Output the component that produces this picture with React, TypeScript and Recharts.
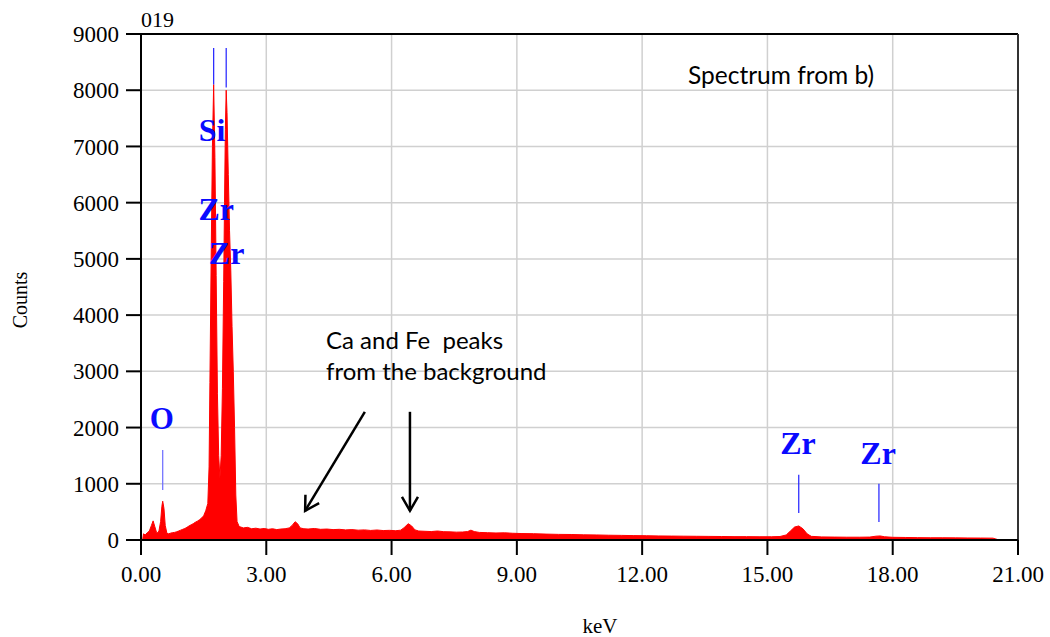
import React from 'react'
import {
  AreaChart, Area, XAxis, YAxis, CartesianGrid, ReferenceLine, ReferenceDot
} from 'recharts'

// energy (keV) and counts
const energy = [
  0.04, 0.06, 0.10, 0.15, 0.20, 0.25, 0.29, 0.33, 0.37, 0.40, 0.43, 0.47, 0.50, 0.52, 0.55, 0.58, 0.62, 0.66,
  0.70, 0.75, 0.80, 0.85, 0.90, 0.95, 1.00, 1.05, 1.10, 1.15, 1.20, 1.25, 1.30, 1.35, 1.40, 1.45, 1.50, 1.55,
  1.60, 1.63, 1.65, 1.68, 1.71, 1.74, 1.77, 1.80, 1.83, 1.86, 1.89, 1.92, 1.95, 1.98, 2.00, 2.02, 2.04, 2.06,
  2.09, 2.12, 2.15, 2.18, 2.21, 2.24, 2.27, 2.30, 2.35, 2.45, 2.55, 2.65, 2.75, 2.85, 2.95, 3.05, 3.15, 3.25,
  3.35, 3.45, 3.55, 3.62, 3.69, 3.75, 3.81, 3.90, 4.00, 4.15, 4.30, 4.45, 4.60, 4.75, 4.90, 5.05, 5.20, 5.35,
  5.50, 5.65, 5.80, 5.95, 6.10, 6.22, 6.30, 6.40, 6.48, 6.56, 6.65, 6.80, 6.95, 7.10, 7.25, 7.40, 7.55, 7.70,
  7.82, 7.90, 7.98, 8.10, 8.30, 8.50, 8.70, 8.90, 9.10, 9.40, 9.70, 10.0, 10.3, 10.6, 10.9, 11.2, 11.5, 11.8,
  12.1, 12.4, 12.7, 13.0, 13.3, 13.6, 13.9, 14.2, 14.5, 14.8, 15.1, 15.3, 15.45, 15.55, 15.65, 15.75, 15.85,
  15.95, 16.05, 16.3, 16.6, 16.9, 17.2, 17.45, 17.6, 17.7, 17.8, 18.0, 18.3, 18.6, 18.9, 19.2, 19.5, 19.8,
  20.1, 20.4, 20.55,
]
const counts = [
  0, 110, 90, 130, 160, 260, 340, 240, 140, 130, 160, 330, 600, 690, 560, 260, 120, 110,
  120, 130, 135, 145, 160, 175, 190, 205, 225, 250, 270, 290, 315, 335, 360, 390, 430, 520,
  650, 1300, 2800, 5000, 7000, 8100, 6800, 4700, 2600, 1500, 1100, 1500, 2700, 4600, 6000, 7300, 8000, 7600,
  6500, 5500, 4800, 3800, 3000, 2000, 800, 330, 240, 215, 225, 200, 210, 195, 205, 190, 200, 185,
  195, 200, 215, 260, 325, 290, 215, 200, 195, 205, 190, 195, 185, 190, 180, 185, 175, 180,
  170, 178, 168, 172, 165, 175, 220, 290, 250, 180, 160, 155, 150, 160, 148, 145, 140, 142,
  150, 175, 150, 135, 130, 125, 128, 120, 115, 112, 105, 100, 98, 92, 90, 85, 82, 78,
  76, 72, 70, 68, 66, 64, 62, 60, 60, 58, 58, 62, 90, 160, 230, 250, 200,
  110, 65, 55, 52, 50, 50, 52, 68, 72, 58, 48, 45, 42, 40, 40, 38, 36,
  35, 33, 0,
]
const xTicks = [0, 3, 6, 9, 12, 15, 18, 21]
const yTicks = [0, 1000, 2000, 3000, 4000, 5000, 6000, 7000, 8000, 9000]

// element markers: label and tick line (kev, from, to), label anchor
const markers = [
  { name: 'O', kev: 0.52, from: 890, to: 1600, lx: 0.50, ly: 2170 },
  { name: 'Si', kev: 1.74, from: 8100, to: 8750, lx: 1.70, ly: 7300 },
  { name: 'Zr', kev: 2.04, from: 8050, to: 8750, lx: 1.80, ly: 5900 },
  { name: 'Zr', kev: 2.04, from: 8050, to: 8050, lx: 2.05, ly: 5120 },
  { name: 'Zr', kev: 15.75, from: 480, to: 1160, lx: 15.73, ly: 1730 },
  { name: 'Zr', kev: 17.67, from: 320, to: 1000, lx: 17.65, ly: 1550 },
]

const arrows = [
  { x1: 5.36, y1: 2280, x2: 3.93, y2: 520 },
  { x1: 6.44, y1: 2280, x2: 6.44, y2: 520 },
]

const spectrum = energy.map((e, i) => ({ kev: e, counts: counts[i] }))

const serif = '"Liberation Serif", "Times New Roman", serif'
const sans = 'Lato, "Open Sans", sans-serif'

const ArrowShape = (p: any) => {
  const { x1, y1, x2, y2 } = p
  const a = Math.atan2(y2 - y1, x2 - x1)
  const len = 16
  const spread = Math.PI / 6
  const ax = x2 - len * Math.cos(a - spread)
  const ay = y2 - len * Math.sin(a - spread)
  const bx = x2 - len * Math.cos(a + spread)
  const by = y2 - len * Math.sin(a + spread)
  return (
    <g>
      <line x1={x1} y1={y1} x2={x2} y2={y2} stroke="#000" strokeWidth={2.5} />
      <polyline points={`${ax},${ay} ${x2},${y2} ${bx},${by}`} fill="none" stroke="#000" strokeWidth={2.5} />
    </g>
  )
}

export default function App() {
  return (
    <div style={{ position: 'absolute', left: 0, top: 0, width: 1050, height: 637, background: '#fff' }}>
      <AreaChart width={1050} height={637} data={spectrum} margin={{ top: 34, right: 32, bottom: 0, left: 0 }}>
        <CartesianGrid stroke="#d0d0d0" strokeWidth={1.5} />
        <XAxis
          dataKey="kev" type="number" domain={[0, 21]} ticks={xTicks} height={97}
          tickFormatter={(v) => Number(v).toFixed(2)}
          tick={{ fill: '#000', fontSize: 23, fontFamily: serif }}
          stroke="#000" strokeWidth={2} tickSize={15} tickMargin={11}
        />
        <YAxis
          type="number" domain={[0, 9000]} ticks={yTicks} width={141}
          tick={{ fill: '#000', fontSize: 23, fontFamily: serif }}
          stroke="#000" strokeWidth={2} tickSize={15} tickMargin={7}
        />
        <ReferenceLine y={9000} stroke="#000" strokeWidth={2} />
        <ReferenceLine x={21} stroke="#333" strokeWidth={2} />
        <Area
          type="linear" dataKey="counts" stroke="#ff0000" strokeWidth={1}
          fill="#ff0000" fillOpacity={1} dot={false} activeDot={false} isAnimationActive={false}
        />
        {markers.filter((m) => m.to > m.from).map((m, i) => (
          <ReferenceLine
            key={`m-${i}`}
            segment={[{ x: m.kev, y: m.from }, { x: m.kev, y: m.to }]}
            stroke={m.name === 'O' ? '#6a6aff' : '#1f1fff'} strokeWidth={1.2}
          />
        ))}
        {markers.map((m, i) => (
          <ReferenceDot
            key={`l-${i}`} x={m.lx} y={m.ly} r={0} fill="none" stroke="none"
            label={{
              value: m.name, position: 'center', fill: '#0a0aff',
              fontSize: m.name === 'O' ? 31 : 32, fontWeight: 'bold', fontFamily: serif,
            }}
          />
        ))}
        {arrows.map((a, i) => (
          <ReferenceLine
            key={`a-${i}`}
            segment={[{ x: a.x1, y: a.y1 }, { x: a.x2, y: a.y2 }]}
            shape={ArrowShape}
          />
        ))}
      </AreaChart>
      <div style={{ position: 'absolute', left: 141, top: 9, fontFamily: serif, fontSize: 22, lineHeight: '22px' }}>019</div>
      <div style={{ position: 'absolute', left: 688, top: 63, fontFamily: sans, fontSize: 24.5, lineHeight: '24px', whiteSpace: 'pre' }}>Spectrum from b)</div>
      <div style={{ position: 'absolute', left: 326, top: 324, fontFamily: sans, fontSize: 24, lineHeight: '31px', whiteSpace: 'pre' }}>
        {'Ca and Fe  peaks\nfrom the background'}
      </div>
      <div style={{
        position: 'absolute', left: 20, top: 300, fontFamily: serif, fontSize: 20,
        transform: 'translate(-50%, -50%) rotate(-90deg)', whiteSpace: 'nowrap',
      }}>Counts</div>
      <div style={{ position: 'absolute', left: 600, top: 626, fontFamily: serif, fontSize: 21, transform: 'translate(-50%, -50%)' }}>keV</div>
    </div>
  )
}
